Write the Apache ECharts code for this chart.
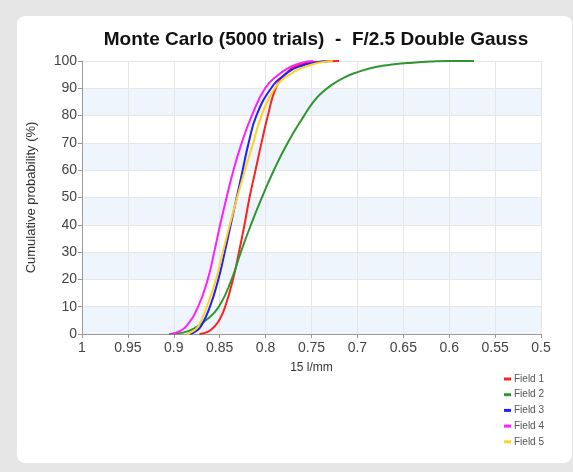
<!DOCTYPE html>
<html>
<head>
<meta charset="utf-8">
<script src="https://cdn.jsdelivr.net/npm/echarts@6/dist/echarts.min.js"></script>
<style>
  html, body { margin: 0; padding: 0; background: #e6e6e6; }
  #panel { position: absolute; left: 17px; top: 16px; width: 555px; height: 447px; background: #fff; border-radius: 8px; }
  #chart { position: absolute; left: 0; top: 0; width: 573px; height: 472px; }
</style>
</head>
<body>
<div id="panel"></div>
<div id="chart"></div>
<script>
// [15 l/mm MTF, cumulative probability %]
var field1 = [[0.872,0],[0.862,1],[0.855,3],[0.849,6],[0.844,10],[0.8355,20],[0.829,30],[0.823,40],[0.8175,50],[0.811,60],[0.8045,70],[0.7975,80],[0.789,90],[0.779,95],[0.764,98.5],[0.745,99.6],[0.72,100]];
var field2 = [[0.905,0],[0.89,0.5],[0.878,2],[0.865,5],[0.851,10],[0.837,20],[0.827,30],[0.816,40],[0.804,50],[0.791,60],[0.776,70],[0.758,80],[0.748,85],[0.74,88],[0.729,91],[0.714,94],[0.699,96],[0.68,97.8],[0.66,98.8],[0.64,99.4],[0.62,99.8],[0.6,100],[0.573,100]];
var field3 = [[0.882,0],[0.876,1],[0.870,3],[0.8606,10],[0.8515,20],[0.8445,30],[0.838,40],[0.8315,50],[0.825,60],[0.8185,70],[0.81,80],[0.794,90],[0.779,95],[0.763,98],[0.745,99.5],[0.73,100]];
var field4 = [[0.903,0],[0.894,1],[0.886,3],[0.8735,10],[0.863,20],[0.856,30],[0.8495,40],[0.8425,50],[0.835,60],[0.826,70],[0.815,80],[0.8005,90],[0.786,95],[0.772,98],[0.76,99.4],[0.748,100]];
var field5 = [[0.886,0],[0.879,1],[0.873,3],[0.864,10],[0.854,20],[0.8465,30],[0.839,40],[0.831,50],[0.8225,60],[0.8135,70],[0.8045,80],[0.79,90],[0.774,95],[0.756,98],[0.74,99.5],[0.727,100]];

var names = ['Field 1', 'Field 2', 'Field 3', 'Field 4', 'Field 5'];
var colors = ['#ff2020', '#2f962f', '#1f1fff', '#ff1fff', '#ffd21f'];
var fields = [field1, field2, field3, field4, field5];

var chart = echarts.init(document.getElementById('chart'));

var series = fields.map(function (d, i) {
  return {
    name: names[i],
    type: 'line',
    data: d,
    smooth: 0.5,
    symbol: 'none',
    lineStyle: { width: 2, color: colors[i] },
    itemStyle: { color: colors[i] }
  };
});

chart.setOption({
  animation: false,
  color: colors,
  title: {
    text: 'Monte Carlo (5000 trials)  -  F/2.5 Double Gauss',
    left: 311,
    top: 25,
    textAlign: 'center',
    textStyle: { fontFamily: 'Liberation Sans', fontSize: 19, fontWeight: 'bold', color: '#111' }
  },
  legend: {
    orient: 'vertical',
    left: 504,
    top: 374,
    padding: 0,
    itemWidth: 7,
    itemHeight: 3,
    itemGap: 5.7,
    icon: 'rect',
    textStyle: { fontFamily: 'Liberation Sans', fontSize: 10, color: '#555', padding: [0, 0, 0, -2] },
    data: names
  },
  grid: { left: 82, right: 32, top: 61, bottom: 138 },
  xAxis: {
    type: 'value',
    min: 0.5,
    max: 1,
    interval: 0.05,
    inverse: true,
    name: '15 l/mm',
    nameLocation: 'middle',
    nameGap: 28,
    nameTextStyle: { fontFamily: 'Liberation Sans', fontSize: 12, color: '#333' },
    axisLine: { show: true, lineStyle: { color: '#999' } },
    axisTick: { show: true, length: 4, lineStyle: { color: '#999' } },
    axisLabel: {
      fontFamily: 'Liberation Sans', fontSize: 14, color: '#444', margin: 7,
      formatter: function (v) { return String(+v.toFixed(2)); }
    },
    splitLine: { show: true, lineStyle: { color: '#e6e6e6' } }
  },
  yAxis: {
    type: 'value',
    min: 0,
    max: 100,
    interval: 10,
    name: 'Cumulative probability (%)',
    nameLocation: 'middle',
    nameGap: 44,
    nameTextStyle: { fontFamily: 'Liberation Sans', fontSize: 13, color: '#333' },
    axisLine: { show: true, lineStyle: { color: '#999' } },
    axisTick: { show: true, length: 4, lineStyle: { color: '#999' } },
    axisLabel: { fontFamily: 'Liberation Sans', fontSize: 14, color: '#444', margin: 5 },
    splitLine: { show: true, lineStyle: { color: '#e6e6e6' } },
    splitArea: { show: true, areaStyle: { color: ['#eef5fc', '#ffffff'] } }
  },
  series: series
});
</script>
</body>
</html>
